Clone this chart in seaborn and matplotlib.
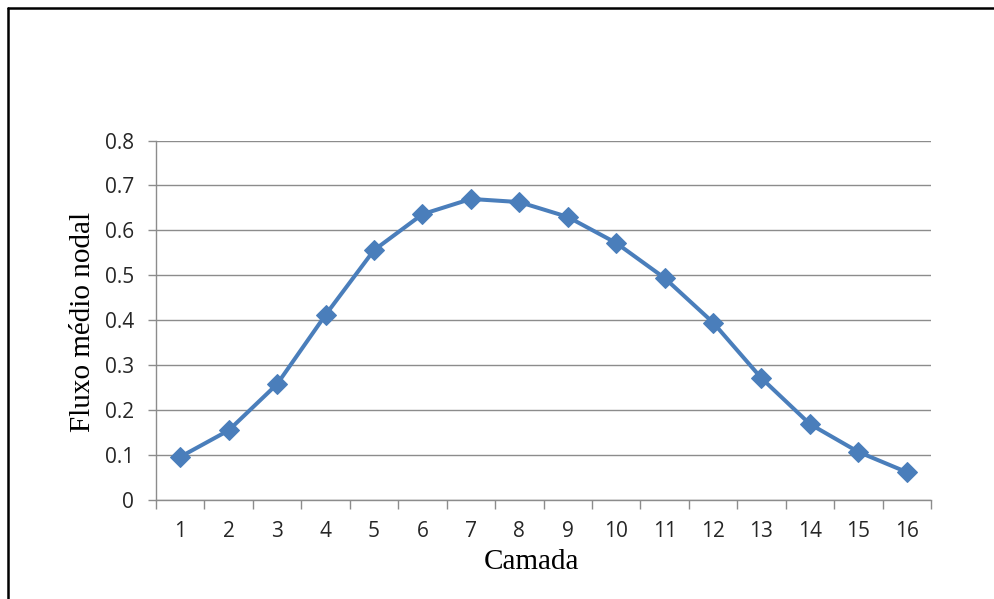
import matplotlib
matplotlib.use("Agg")
import matplotlib.pyplot as plt
from matplotlib.lines import Line2D
import seaborn as sns
import pandas as pd

camadas = [str(i) for i in range(1, 17)]
fluxo = [0.096, 0.155, 0.258, 0.412, 0.556, 0.636, 0.670, 0.663,
         0.630, 0.572, 0.494, 0.395, 0.271, 0.169, 0.107, 0.062]
yticks = [0, 0.1, 0.2, 0.3, 0.4, 0.5, 0.6, 0.7, 0.8]
ytick_labels = ["0", "0.1", "0.2", "0.3", "0.4", "0.5", "0.6", "0.7", "0.8"]

df = pd.DataFrame({"Camada": camadas, "Fluxo": fluxo})

sns.set_theme(style="white")
plt.rcParams["font.family"] = ["Open Sans", "DejaVu Sans"]

fig = plt.figure(figsize=(9.94, 5.99), dpi=100)
ax = fig.add_axes([0.157, 0.1653, 0.7796, 0.6001])

sns.lineplot(data=df, x="Camada", y="Fluxo", ax=ax, color="#4A7EBB",
             linewidth=2.9, marker="D", markersize=10.5,
             markeredgecolor="#4A7EBB", sort=False)

ax.set_xlim(-0.5, 15.5)
ax.set_ylim(0, 0.8)
ax.set_yticks(yticks)
ax.set_yticklabels(ytick_labels)
ax.set_xticks(range(16))
ax.set_xticklabels(camadas)
ax.set_xticks([i - 0.5 for i in range(17)], minor=True)

grid_c = "#8C8C8C"
ax.yaxis.grid(True, color=grid_c, linewidth=1.0)
ax.xaxis.grid(False)
ax.set_axisbelow(True)
for s in ["top", "right"]:
    ax.spines[s].set_visible(False)
for s in ["left", "bottom"]:
    ax.spines[s].set_color(grid_c)
    ax.spines[s].set_linewidth(1.0)

ax.tick_params(axis="x", which="major", length=0, pad=15, labelsize=15,
               labelcolor="#262626")
ax.tick_params(axis="x", which="minor", length=6.5, width=1.0, color=grid_c,
               bottom=True)
ax.tick_params(axis="y", which="major", length=6, width=1.0, color=grid_c,
               left=True, pad=10, labelsize=15, labelcolor="#262626")

ax.set_xlabel("Camada", family="Liberation Serif", fontsize=21, color="black")
ax.set_ylabel("Fluxo médio nodal", family="Liberation Serif", fontsize=21,
              color="black")
ax.xaxis.label.set_va("center")
ax.yaxis.label.set_va("center")
ax.xaxis.set_label_coords(0.485, -0.172)
ax.yaxis.set_label_coords(-0.094, 0.494)

# outer frame (left and top edges)
fx = 8 / 994
fy = 1 - 8 / 599
fig.add_artist(Line2D([fx, fx], [0, fy], transform=fig.transFigure,
                      color="black", linewidth=1.8))
fig.add_artist(Line2D([fx, 1], [fy, fy], transform=fig.transFigure,
                      color="black", linewidth=1.8))

fig.savefig("out.png", dpi=100)
